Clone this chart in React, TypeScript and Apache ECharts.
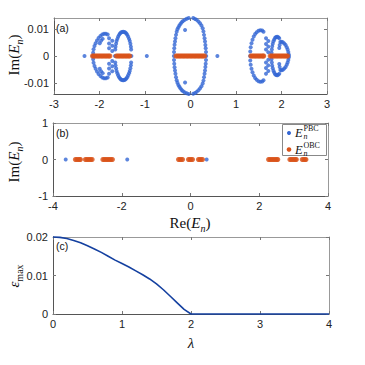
import React, { useEffect, useRef } from 'react';
import * as echarts from 'echarts';

// ---------- Panel (a): PBC spectrum (blue), Re vs Im ----------
const pbcALeft: [number, number][] = [
  [-2.33, 0],
  [-1.82, 0.008], [-1.86, 0.0083], [-1.9, 0.0083], [-1.94, 0.008], [-1.98, 0.0075], [-2.02, 0.0067],
  [-2.055, 0.0058], [-2.085, 0.0048], [-2.11, 0.0037], [-2.13, 0.0025], [-2.14, 0.0012], [-2.145, 0],
  [-1.82, -0.008], [-1.86, -0.0083], [-1.9, -0.0083], [-1.94, -0.008], [-1.98, -0.0075], [-2.02, -0.0067],
  [-2.055, -0.0058], [-2.085, -0.0048], [-2.11, -0.0037], [-2.13, -0.0025], [-2.14, -0.0012],
  [-1.93, 0.0064], [-1.965, 0.0057], [-1.995, 0.0048], [-1.93, -0.0064], [-1.965, -0.0057], [-1.995, -0.0048],
  [-1.79, 0.0066], [-1.79, 0.0047], [-1.79, 0.0029], [-1.79, -0.0029], [-1.79, -0.0047], [-1.79, -0.0066],
  [-1.72, 0.0057], [-1.72, 0.0038], [-1.72, 0.0019], [-1.72, -0.0019], [-1.72, -0.0038], [-1.72, -0.0057],
  [-1.3, 0], [-1.305, 0.0024], [-1.31, 0.0035], [-1.322, 0.0046], [-1.335, 0.0056], [-1.35, 0.0064],
  [-1.37, 0.0072], [-1.39, 0.0079], [-1.41, 0.0084], [-1.433, 0.0088], [-1.455, 0.009], [-1.48, 0.0091],
  [-1.505, 0.009], [-1.527, 0.0088], [-1.55, 0.0084], [-1.57, 0.0079], [-1.59, 0.0072], [-1.607, 0.0064],
  [-1.625, 0.0056], [-1.636, 0.0046], [-1.648, 0.0035], [-1.654, 0.0024], [-1.66, 0],
  [-1.305, -0.0024], [-1.31, -0.0035], [-1.322, -0.0046], [-1.335, -0.0056], [-1.35, -0.0064],
  [-1.37, -0.0072], [-1.39, -0.0079], [-1.41, -0.0084], [-1.433, -0.0088], [-1.455, -0.009], [-1.48, -0.0091],
  [-1.505, -0.009], [-1.527, -0.0088], [-1.55, -0.0084], [-1.57, -0.0079], [-1.59, -0.0072], [-1.607, -0.0064],
  [-1.625, -0.0056], [-1.636, -0.0046], [-1.648, -0.0035], [-1.654, -0.0024],
];

const pbcACenter: [number, number][] = [
  [-0.96, 0], [0.59, 0],
  [-0.12, 0.0097], [-0.12, -0.0099],
  [-0.365, 0], [-0.362, 0.0015], [-0.357, 0.0029], [-0.35, 0.0042], [-0.341, 0.0054], [-0.331, 0.0066],
  [-0.318, 0.0079], [-0.304, 0.0091], [-0.287, 0.01], [-0.267, 0.0107], [-0.245, 0.0114], [-0.22, 0.012],
  [-0.194, 0.0126], [-0.165, 0.0131], [-0.125, 0.0135], [-0.084, 0.0139], [-0.04, 0.0142], [0.0, 0.0143],
  [0.026, 0.0144], [0.06, 0.0142], [0.1, 0.0138], [0.136, 0.0135], [0.175, 0.0129], [0.209, 0.0122],
  [0.24, 0.0114], [0.268, 0.0104], [0.285, 0.0092], [0.297, 0.0079], [0.309, 0.0066], [0.319, 0.0054],
  [0.327, 0.0041], [0.334, 0.0029], [0.34, 0.0015], [0.345, 0],
  [-0.362, -0.0015], [-0.357, -0.0029], [-0.35, -0.0042], [-0.341, -0.0054], [-0.331, -0.0066],
  [-0.318, -0.0079], [-0.304, -0.0091], [-0.287, -0.01], [-0.267, -0.0108], [-0.245, -0.0115], [-0.22, -0.0121],
  [-0.194, -0.0127], [-0.165, -0.0132], [-0.125, -0.0136], [-0.084, -0.0139], [-0.04, -0.0142], [0.0, -0.0143],
  [0.026, -0.0143], [0.06, -0.0141], [0.1, -0.0138], [0.136, -0.0134], [0.175, -0.0128], [0.209, -0.0121],
  [0.24, -0.0113], [0.268, -0.0103], [0.285, -0.0092], [0.297, -0.0079], [0.309, -0.0066], [0.319, -0.0054],
  [0.327, -0.0041], [0.334, -0.0029], [0.34, -0.0015],
];

const pbcARight: [number, number][] = [
  [1.31, 0], [1.313, 0.0017], [1.323, 0.0033], [1.34, 0.0048], [1.362, 0.0061], [1.39, 0.0073],
  [1.42, 0.0082], [1.455, 0.0089], [1.495, 0.0094], [1.535, 0.0096], [1.575, 0.0095], [1.605, 0.0091],
  [1.313, -0.0017], [1.323, -0.0033], [1.34, -0.0048], [1.362, -0.0061], [1.39, -0.0073],
  [1.42, -0.0082], [1.455, -0.0089], [1.495, -0.0094], [1.535, -0.0096], [1.575, -0.0095], [1.605, -0.0091],
  [1.66, 0.0066], [1.66, 0.0045], [1.66, 0.0024], [1.66, -0.0024], [1.66, -0.0045], [1.66, -0.0066],
  [1.71, 0.0056], [1.71, 0.0035], [1.71, 0.0014], [1.71, -0.0014], [1.71, -0.0035], [1.71, -0.0056],
  [1.78, 0], [1.782, 0.0012], [1.787, 0.0024], [1.796, 0.0036], [1.808, 0.0046], [1.823, 0.0055],
  [1.84, 0.0062], [1.86, 0.0068], [1.882, 0.0071], [1.905, 0.0072], [1.928, 0.007], [1.95, 0.0066],
  [1.782, -0.0012], [1.787, -0.0024], [1.796, -0.0036], [1.808, -0.0046], [1.823, -0.0055],
  [1.84, -0.0062], [1.86, -0.0068], [1.882, -0.0071], [1.905, -0.0072], [1.928, -0.007], [1.95, -0.0066],
  [1.96, 0.0041], [1.95, 0.003], [1.96, -0.0041], [1.95, -0.003],
  [1.975, 0.0052], [2.0, 0.0053], [2.03, 0.0051], [2.06, 0.0047], [2.09, 0.0041], [2.115, 0.0033],
  [2.135, 0.0024], [2.15, 0.0015], [2.16, 0.0006], [2.162, 0],
  [1.975, -0.0052], [2.0, -0.0053], [2.03, -0.0051], [2.06, -0.0047], [2.09, -0.0041], [2.115, -0.0033],
  [2.135, -0.0024], [2.15, -0.0015], [2.16, -0.0006],
];

// ---------- Panel (a): OBC spectrum (real, orange) ----------
const obcARe: number[] = [
  -2.155, -2.125, -2.095, -2.065, -2.035, -2.005, -1.975, -1.945, -1.915, -1.885, -1.855, -1.825, -1.795, -1.77,
  -1.63, -1.6, -1.57, -1.54, -1.51, -1.48, -1.45, -1.42, -1.39, -1.36, -1.335,
  -0.32, -0.29, -0.26, -0.23, -0.2, -0.17, -0.14, -0.11, -0.08, -0.05, -0.02, 0.01, 0.04, 0.07, 0.1, 0.13,
  0.16, 0.19, 0.22, 0.25, 0.28, 0.31,
  1.325, 1.355, 1.385, 1.415, 1.445, 1.475, 1.505, 1.535, 1.565, 1.595, 1.61,
  1.75, 1.78, 1.81, 1.84, 1.87, 1.9, 1.93, 1.96, 1.99, 2.02, 2.05, 2.08, 2.11, 2.135,
];

// ---------- Panel (b) ----------
const pbcBRe: number[] = [-3.63, -1.84, 0.47];
const obcBRe: number[] = [
  -3.35, -3.31, -3.27, -3.23, -3.2, -3.06, -3.02, -2.98, -2.94, -2.9, -2.86,
  -2.55, -2.51, -2.47, -2.43, -2.39, -2.35, -2.31, -2.27,
  -0.35, -0.31, -0.27, -0.23, -0.06, -0.02, 0.02, 0.06, 0.23, 0.27, 0.31, 0.35,
  2.27, 2.31, 2.35, 2.39, 2.43, 2.47, 2.51, 2.54,
  2.89, 2.93, 2.97, 3.01, 3.05, 3.08, 3.25, 3.29, 3.33, 3.36,
];

// ---------- Panel (c): eps_max vs lambda ----------
const lambdaVals: number[] = [0, 0.1, 0.2, 0.3, 0.4, 0.5, 0.6, 0.7, 0.8, 0.9, 1.0, 1.1, 1.2, 1.3, 1.4, 1.5, 1.6, 1.7, 1.8, 1.9, 2.0, 2.5, 3.0, 3.5, 4.0];
const epsMax: number[] = [0.02, 0.0199, 0.0196, 0.0191, 0.0185, 0.0177, 0.0169, 0.016, 0.015, 0.014, 0.0131, 0.0122, 0.0112, 0.0102, 0.0091, 0.0078, 0.0063, 0.0046, 0.0029, 0.0012, 0, 0, 0, 0, 0];

// ---------- Axis ticks ----------
const yTicksA: number[] = [-0.01, 0, 0.01];

const BLUE = '#3366d4';
const RED = '#D95319';
const LINE = '#1440a0';
const SANS = 'Liberation Sans, Arial, sans-serif';
const SERIF = 'Liberation Serif, Times New Roman, serif';

function mkX(gridIndex: number, min: number, max: number, interval: number, position: 'bottom' | 'top') {
  const bottom = position === 'bottom';
  return {
    type: 'value', gridIndex, min, max, interval, position,
    axisLine: { show: true, onZero: false, lineStyle: { color: bottom ? '#555' : '#999', width: 1 } },
    axisTick: { show: true, inside: true, length: 3, lineStyle: { color: '#777' } },
    axisLabel: { show: bottom, margin: 4, fontSize: 11, fontFamily: SANS, color: '#222' },
    splitLine: { show: false },
  };
}

function mkY(gridIndex: number, min: number, max: number, interval: number | undefined, position: 'left' | 'right', custom?: number[]) {
  const left = position === 'left';
  const o: any = {
    type: 'value', gridIndex, min, max, position,
    axisLine: { show: true, onZero: false, lineStyle: { color: left ? '#555' : '#999', width: 1 } },
    axisTick: { show: true, inside: true, length: 3, lineStyle: { color: '#777' } },
    axisLabel: { show: left, margin: 5, fontSize: 11, fontFamily: SANS, color: '#222' },
    splitLine: { show: false },
  };
  if (interval !== undefined) o.interval = interval;
  if (custom) {
    o.axisTick.customValues = custom;
    o.axisLabel.customValues = custom;
  }
  return o;
}

const richLabel = {
  r: { fontFamily: SERIF, fontSize: 15, fill: '#111', lineHeight: 20 },
  i: { fontFamily: SERIF, fontSize: 15, fontStyle: 'italic', fill: '#111', lineHeight: 20 },
  s: { fontFamily: SERIF, fontSize: 10, fontStyle: 'italic', fill: '#111', lineHeight: 10, verticalAlign: 'bottom' },
  u: { fontFamily: SERIF, fontSize: 10, fill: '#111', lineHeight: 10, verticalAlign: 'bottom' },
};

export default function App() {
  const ref = useRef<HTMLDivElement>(null);
  useEffect(() => {
    if (!ref.current) return;
    const chart = echarts.init(ref.current, null, { renderer: 'svg' });
    const grids = [
      { left: 54, top: 18, width: 273, height: 76 },
      { left: 53, top: 123, width: 275, height: 73 },
      { left: 53, top: 237, width: 276, height: 77 },
    ].map((g) => ({ ...g, containLabel: false, outerBoundsMode: 'none' }));

    const option: any = {
      animation: false,
      backgroundColor: '#fff',
      grid: grids,
      xAxis: [
        mkX(0, -3, 3, 1, 'bottom'), mkX(0, -3, 3, 1, 'top'),
        mkX(1, -4, 4, 2, 'bottom'), mkX(1, -4, 4, 2, 'top'),
        mkX(2, 0, 4, 1, 'bottom'), mkX(2, 0, 4, 1, 'top'),
      ],
      yAxis: [
        mkY(0, -0.0142, 0.0142, undefined, 'left', yTicksA), mkY(0, -0.0142, 0.0142, undefined, 'right', yTicksA),
        mkY(1, -1, 1, 1, 'left'), mkY(1, -1, 1, 1, 'right'),
        mkY(2, 0, 0.02, 0.01, 'left'), mkY(2, 0, 0.02, 0.01, 'right'),
      ],
      series: [
        { type: 'scatter', xAxisIndex: 0, yAxisIndex: 0, symbolSize: 4, itemStyle: { color: BLUE },
          data: [...pbcALeft, ...pbcACenter, ...pbcARight], silent: true },
        { type: 'scatter', xAxisIndex: 0, yAxisIndex: 0, symbolSize: 5, itemStyle: { color: RED },
          data: obcARe.map((x) => [x, 0]), silent: true },
        { type: 'scatter', xAxisIndex: 2, yAxisIndex: 2, symbolSize: 4, itemStyle: { color: BLUE },
          data: pbcBRe.map((x) => [x, 0]), silent: true },
        { type: 'scatter', xAxisIndex: 2, yAxisIndex: 2, symbolSize: 5, itemStyle: { color: RED },
          data: obcBRe.map((x) => [x, 0]), silent: true },
        { type: 'line', xAxisIndex: 4, yAxisIndex: 4, showSymbol: false, clip: false,
          lineStyle: { color: LINE, width: 1.6 }, data: lambdaVals.map((l, i) => [l, epsMax[i]]), silent: true },
      ],
      graphic: [
        // panel labels
        { type: 'text', x: 56, y: 22, style: { text: '(a)', fontFamily: SANS, fontSize: 10.5, fill: '#111', verticalAlign: 'top' } },
        { type: 'text', x: 56, y: 127, style: { text: '(b)', fontFamily: SANS, fontSize: 10.5, fill: '#111', verticalAlign: 'top' } },
        { type: 'text', x: 56, y: 240, style: { text: '(c)', fontFamily: SANS, fontSize: 10.5, fill: '#111', verticalAlign: 'top' } },
        // axis titles
        { type: 'text', x: 14, y: 55, rotation: Math.PI / 2,
          style: { text: '{r|Im(}{i|E}{s|n}{r|)}', rich: richLabel, align: 'center', verticalAlign: 'middle' } },
        { type: 'text', x: 14, y: 162, rotation: Math.PI / 2,
          style: { text: '{r|Im(}{i|E}{s|n}{r|)}', rich: richLabel, align: 'center', verticalAlign: 'middle' } },
        { type: 'text', x: 190, y: 223,
          style: { text: '{r|Re(}{i|E}{s|n}{r|)}', rich: richLabel, align: 'center', verticalAlign: 'middle' } },
        { type: 'text', x: 14, y: 276, rotation: Math.PI / 2,
          style: { text: '{i|ε}{u|max}', rich: richLabel, align: 'center', verticalAlign: 'middle' } },
        { type: 'text', x: 191, y: 343,
          style: { text: 'λ', fontFamily: SERIF, fontStyle: 'italic', fontSize: 15, fill: '#111', align: 'center', verticalAlign: 'middle' } },
        // legend
        { type: 'rect', shape: { x: 282.5, y: 124.5, width: 44, height: 31 }, style: { fill: '#fff', stroke: '#888', lineWidth: 1 } },
        { type: 'circle', shape: { cx: 289, cy: 133, r: 2 }, style: { fill: BLUE } },
        { type: 'circle', shape: { cx: 289, cy: 149.5, r: 2.3 }, style: { fill: RED } },
        { type: 'text', x: 295, y: 133, style: { text: 'E', fontFamily: SERIF, fontStyle: 'italic', fontSize: 12.5, fill: '#111', verticalAlign: 'middle' } },
        { type: 'text', x: 303.5, y: 128.5, style: { text: 'PBC', fontFamily: SERIF, fontSize: 8, fill: '#111', verticalAlign: 'middle' } },
        { type: 'text', x: 303.5, y: 136.5, style: { text: 'n', fontFamily: SERIF, fontStyle: 'italic', fontSize: 8, fill: '#111', verticalAlign: 'middle' } },
        { type: 'text', x: 295, y: 149.5, style: { text: 'E', fontFamily: SERIF, fontStyle: 'italic', fontSize: 12.5, fill: '#111', verticalAlign: 'middle' } },
        { type: 'text', x: 303.5, y: 145, style: { text: 'OBC', fontFamily: SERIF, fontSize: 8, fill: '#111', verticalAlign: 'middle' } },
        { type: 'text', x: 303.5, y: 153, style: { text: 'n', fontFamily: SERIF, fontStyle: 'italic', fontSize: 8, fill: '#111', verticalAlign: 'middle' } },
      ],
    };
    chart.setOption(option);
    return () => chart.dispose();
  }, []);
  return <div ref={ref} style={{ position: 'fixed', left: 0, top: 0, width: 365, height: 365, background: '#fff' }} />;
}
